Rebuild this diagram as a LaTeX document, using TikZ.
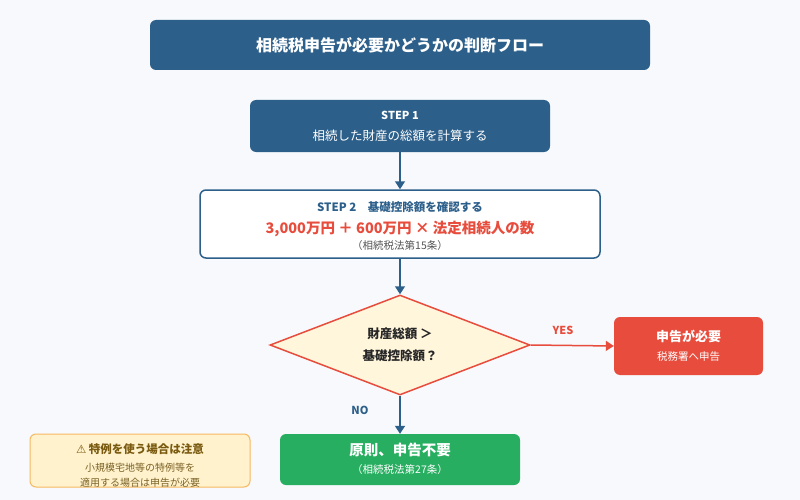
\documentclass[tikz,border=0pt]{standalone}
\usepackage{fontspec}
\setmainfont{Noto Sans CJK JP}
\newfontfamily\symf{DejaVu Sans}
\usetikzlibrary{shapes.geometric,arrows.meta}
\definecolor{navy}{HTML}{2C5F8A}
\definecolor{bg}{HTML}{F7F9FC}
\definecolor{red1}{HTML}{E74C3C}
\definecolor{grn}{HTML}{27AE60}
\definecolor{dfill}{HTML}{FFF6DC}
\definecolor{nfill}{HTML}{FFF2CC}
\definecolor{nbord}{HTML}{F5B961}
\definecolor{ntext}{HTML}{7A5A10}
\definecolor{gtxt}{HTML}{555555}
\begin{document}
\begin{tikzpicture}[x=1pt,y=-1pt,
  box/.style={rounded corners=6pt,draw=none},
  arr/.style={-{Triangle[length=8pt,width=10pt]},line width=1.5pt},
  t/.style={inner sep=0pt,align=center}]
\fill[bg] (0,0) rectangle (800,500);
\useasboundingbox (0,0) rectangle (800,500);
% title
\node[box,fill=navy,minimum width=500pt,minimum height=50pt] (title) at (400,45) {};
\node[t,text=white,font=\fontsize{16}{18}\selectfont\bfseries] at (title) {相続税申告が必要かどうかの判断フロー};
% step1
\node[box,fill=navy,minimum width=300pt,minimum height=52pt] (s1) at (400,126) {};
\node[t,text=white,font=\fontsize{11}{13}\selectfont\bfseries] at (400,115) {STEP 1};
\node[t,text=white,font=\fontsize{12.5}{14}\selectfont] at (400,136) {相続した財産の総額を計算する};
% step2
\node[rounded corners=6pt,draw=navy,line width=1.5pt,fill=white,minimum width=400pt,minimum height=68pt] (s2) at (400,224) {};
\node[t,text=navy,font=\fontsize{11.5}{13}\selectfont\bfseries] at (400,207) {STEP 2\hspace{1em}基礎控除額を確認する};
\node[t,text=red1,font=\fontsize{14.5}{16}\selectfont\bfseries] at (400,229) {3,000万円 ＋ 600万円 × 法定相続人の数};
\node[t,text=gtxt,font=\fontsize{10.5}{12}\selectfont] at (400,246) {（相続税法第15条）};
% diamond
\node[diamond,draw=red1,line width=1.5pt,fill=dfill,minimum width=260pt,minimum height=100pt,inner sep=0pt] (d) at (400,345) {};
\node[t,font=\fontsize{12.5}{22}\selectfont\bfseries,text=black!85] at (400,345) {財産総額 ＞\\基礎控除額？};
% yes
\node[box,fill=red1,minimum width=149pt,minimum height=58pt] (y) at (688.5,346) {};
\node[t,text=white,font=\fontsize{13}{15}\selectfont\bfseries] at (688.5,336) {申告が必要};
\node[t,text=white,font=\fontsize{10.5}{12}\selectfont] at (688.5,357) {税務署へ申告};
% no
\node[box,fill=grn,minimum width=240pt,minimum height=51pt] (n) at (400,459.5) {};
\node[t,text=white,font=\fontsize{14.5}{16}\selectfont\bfseries] at (400,450) {原則、申告不要};
\node[t,text=white,font=\fontsize{10.5}{12}\selectfont] at (400,470) {（相続税法第27条）};
% note
\node[rounded corners=6pt,draw=nbord,line width=1pt,fill=nfill,minimum width=220pt,minimum height=53pt] (note) at (140,460.5) {};
\node[t,text=ntext,font=\fontsize{11.5}{13}\selectfont\bfseries] at (140,449) {{\symf ⚠} 特例を使う場合は注意};
\node[t,text=ntext!80!gray,font=\fontsize{10}{14.5}\selectfont] at (140,475) {小規模宅地等の特例等を\\適用する場合は申告が必要};
% arrows
\draw[arr,navy] (s1.south) -- (s2.north);
\draw[arr,navy] (s2.south) -- (d.north);
\draw[arr,red1] (d.east) -- (y.west);
\draw[arr,navy] (d.south) -- (n.north);
\node[t,text=red1,font=\fontsize{11}{13}\selectfont\bfseries] at (563,330) {YES};
\node[t,text=navy,font=\fontsize{11}{13}\selectfont\bfseries] at (360,410) {NO};
\end{tikzpicture}
\end{document}
